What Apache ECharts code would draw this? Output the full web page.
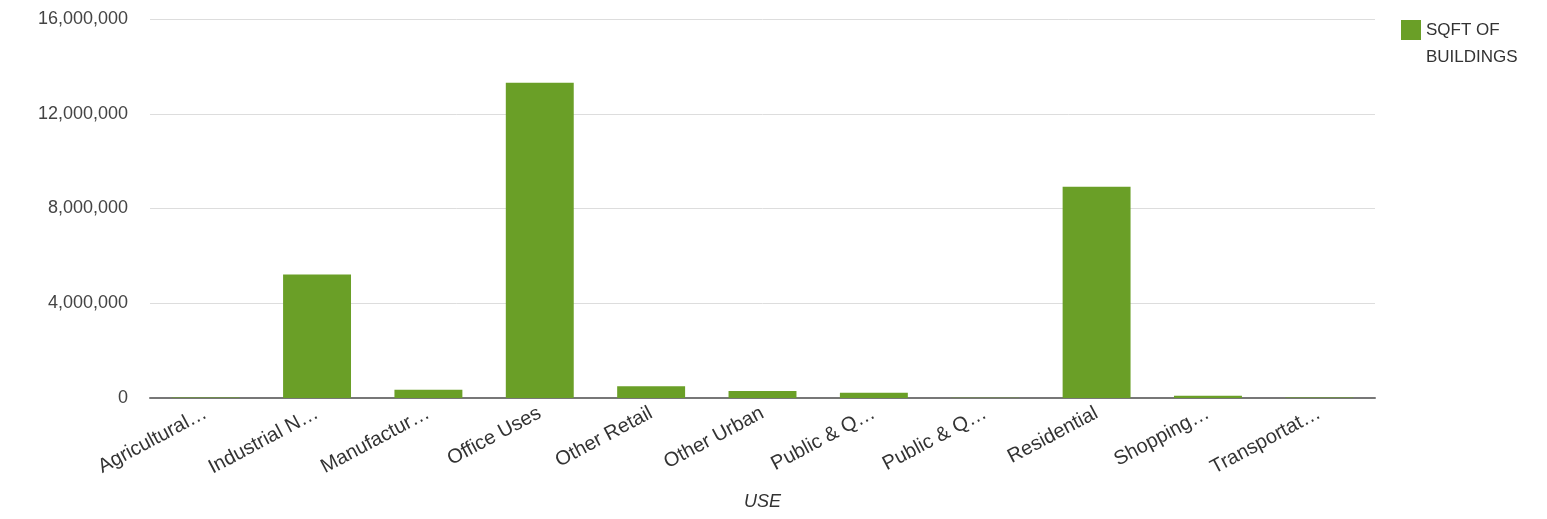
<!DOCTYPE html>
<html>
<head>
<meta charset="utf-8">
<script src="https://cdn.jsdelivr.net/npm/echarts@6/dist/echarts.min.js"></script>
<style>
  html, body { margin: 0; padding: 0; background: #fff; }
  #chart { width: 1547px; height: 519px; }
</style>
</head>
<body>
<div id="chart"></div>
<script>
const categories = [
  'Agricultural…', 'Industrial N…', 'Manufactur…', 'Office Uses', 'Other Retail',
  'Other Urban', 'Public & Q…', 'Public & Q…', 'Residential', 'Shopping…', 'Transportat…'
];
const sqftValues = [20000, 5210000, 350000, 13310000, 495000, 295000, 225000, 15000, 8920000, 100000, 20000];
const yTicks = { min: 0, max: 16000000, interval: 4000000 };

let chart = echarts.init(document.getElementById('chart'));
let option = {
  animation: false,
  textStyle: { fontFamily: 'Liberation Sans, Arial, sans-serif' },
  grid: { left: 150, right: 172, top: 19, bottom: 121 },
  legend: {
    orient: 'vertical',
    left: 1396,
    top: 12,
    itemWidth: 20,
    itemHeight: 48,
    // square sits at the top of a taller box so it lines up with the first text line
    icon: 'path://M0,0h20v20h-20zM0,48h20v0h-20z',
    textStyle: { color: '#333', fontSize: 17, lineHeight: 27 },
    data: ['SQFT OF\nBUILDINGS']
  },
  xAxis: {
    type: 'category',
    data: categories,
    name: 'USE',
    nameLocation: 'middle',
    nameGap: 95,
    nameTextStyle: { fontStyle: 'italic', fontSize: 18, color: '#333' },
    axisLine: { lineStyle: { color: '#777', width: 2 } },
    axisTick: { show: false },
    axisLabel: { rotate: 28, fontSize: 20, color: '#333', interval: 0, margin: 14 }
  },
  yAxis: {
    type: 'value',
    min: yTicks.min,
    max: yTicks.max,
    interval: yTicks.interval,
    axisLine: { show: false },
    axisTick: { show: false },
    axisLabel: {
      fontSize: 18,
      color: '#444',
      margin: 22,
      formatter: v => v.toLocaleString('en-US')
    },
    splitLine: { lineStyle: { color: '#ddd', width: 1 } }
  },
  series: [{
    name: 'SQFT OF\nBUILDINGS',
    type: 'bar',
    barWidth: '61%',
    itemStyle: { color: '#6a9f27' },
    data: sqftValues
  }]
};
chart.setOption(option);
window.addEventListener('resize', () => chart.resize(), false);
</script>
</body>
</html>
